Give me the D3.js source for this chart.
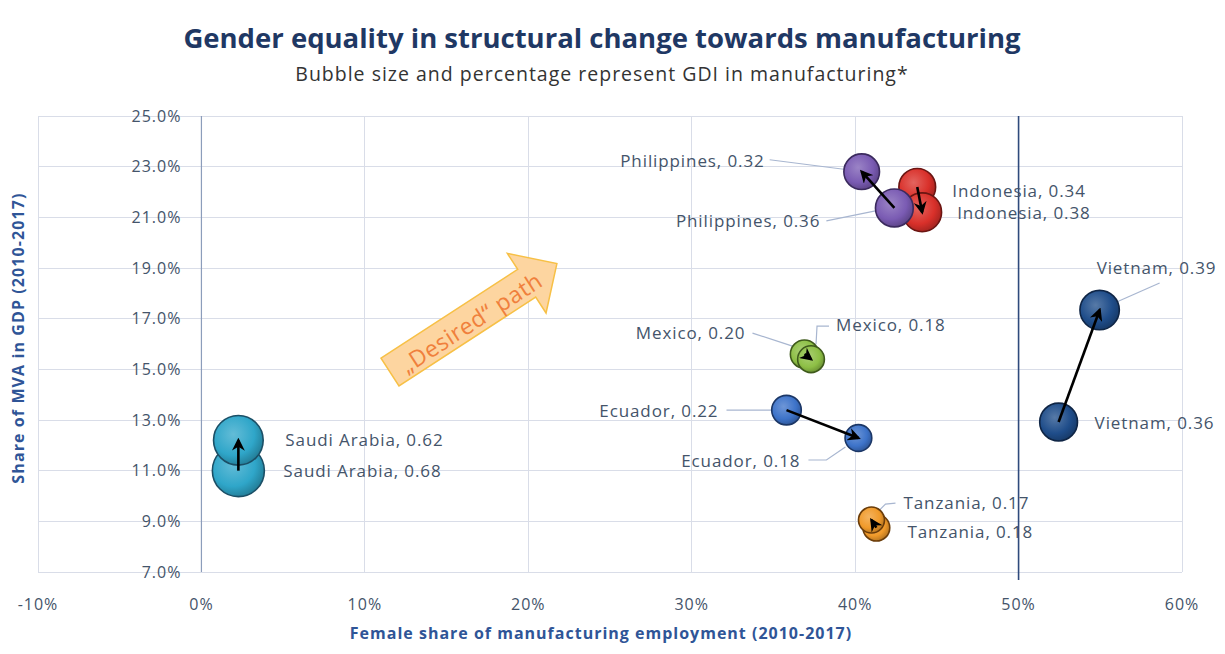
<!DOCTYPE html>
<meta charset="utf-8">
<style>
  body { margin: 0; background: #fff; font-family: "Open Sans", sans-serif; }
  .grid line { stroke: #d9dde8; stroke-width: 1; shape-rendering: crispEdges; }
  .tick-label { fill: #44546a; font-size: 16px; letter-spacing: 1px; }
  .bubble-label { fill: #44546a; font-size: 17px; letter-spacing: 0.9px; }
  .leader { fill: none; stroke: #a8b6d0; stroke-width: 1.2; }
</style>
<body>
<script src="https://d3js.org/d3.v7.min.js"></script>
<script>

// data: each country has a start and an end bubble (arrow goes start -> end)
var countries = ["Saudi Arabia", "Indonesia", "Philippines", "Mexico", "Ecuador", "Vietnam", "Tanzania"];
var startFemale = [0.0226, 0.438, 0.424, 0.369, 0.358, 0.5245, 0.413];
var startMva    = [0.110, 0.222, 0.2137, 0.156, 0.1339, 0.1292, 0.0875];
var startGdi    = [0.68, 0.34, 0.36, 0.20, 0.22, 0.36, 0.18];
var endFemale   = [0.0226, 0.441, 0.404, 0.373, 0.402, 0.5496, 0.410];
var endMva      = [0.122, 0.212, 0.228, 0.154, 0.1229, 0.1734, 0.0905];
var endGdi      = [0.62, 0.38, 0.32, 0.18, 0.18, 0.39, 0.17];

var xTicks = [-0.1, 0, 0.1, 0.2, 0.3, 0.4, 0.5, 0.6];
var yTicks = [0.07, 0.09, 0.11, 0.13, 0.15, 0.17, 0.19, 0.21, 0.23, 0.25];

// styling
var colors = {
  "Saudi Arabia": ["#2fa6c9", "#1b4f66"],
  "Philippines": ["#7a5bb3", "#3b2a5e"],
  "Indonesia": ["#d9302a", "#6b1512"],
  "Mexico": ["#8dbf45", "#3f5a1c"],
  "Ecuador": ["#3d73c9", "#1c3766"],
  "Vietnam": ["#1f4d8a", "#0f2545"],
  "Tanzania": ["#f09a2a", "#6b3d0a"]
};

// label offsets relative to bubble centre (pixels)
var labelLayout = {
  "Saudi Arabia|0.68": { dx: 45, dy: 0, anchor: "start" },
  "Saudi Arabia|0.62": { dx: 47, dy: 0, anchor: "start" },
  "Philippines|0.36": { dx: -74, dy: 13, anchor: "end", leader: [[-68, 13], [-14, 2]] },
  "Philippines|0.32": { dx: -97, dy: -11, anchor: "end", leader: [[-92, -12], [-14, -2]] },
  "Indonesia|0.34": { dx: 35, dy: 4, anchor: "start" },
  "Indonesia|0.38": { dx: 35, dy: 1, anchor: "start" },
  "Mexico|0.20": { dx: -59, dy: -21, anchor: "end", leader: [[-52, -21], [-12, -8]] },
  "Mexico|0.18": { dx: 25, dy: -34, anchor: "start", leader: [[18, -33], [6, -33], [5, -15]] },
  "Ecuador|0.22": { dx: -68, dy: 1, anchor: "end", leader: [[-60, 0], [-15, 0]] },
  "Ecuador|0.18": { dx: -58, dy: 23, anchor: "end", leader: [[-50, 22], [-32, 22], [-13, 9]] },
  "Vietnam|0.36": { dx: 36, dy: 1, anchor: "start" },
  "Vietnam|0.39": { dx: -3, dy: -42, anchor: "start", leader: [[60, -27], [17, -8]] },
  "Tanzania|0.18": { dx: 31, dy: 4, anchor: "start" },
  "Tanzania|0.17": { dx: 32, dy: -17, anchor: "start", leader: [[24, -17], [14, -16], [8, -10]] }
};

var W = 1225, H = 654;
var svg = d3.select("body").append("svg")
  .attr("width", W).attr("height", H)
  .style("font-family", "'Open Sans', sans-serif");

var x = d3.scaleLinear().domain([-0.1, 0.6]).range([38, 1182]);
var y = d3.scaleLinear().domain([0.07, 0.25]).range([572, 116]);
var r = d3.scaleSqrt().domain([0, 0.68]).range([0, 26]);

// plain hyphen for negative ticks, like Excel
var loc = d3.formatLocale({ decimal: ".", thousands: ",", grouping: [3], currency: ["", ""], minus: "-" });

var defs = svg.append("defs");
countries.forEach(function (c, i) {
  var base = d3.color(colors[c][0]);
  var g = defs.append("radialGradient").attr("id", "grad" + i)
    .attr("cx", "40%").attr("cy", "38%").attr("r", "65%");
  g.append("stop").attr("offset", "0%").attr("stop-color", d3.interpolateRgb(base, "#fff")(0.25));
  g.append("stop").attr("offset", "65%").attr("stop-color", base);
  g.append("stop").attr("offset", "100%").attr("stop-color", base.darker(0.8));
});
defs.append("marker").attr("id", "head")
  .attr("viewBox", "0 0 10 10").attr("refX", 8).attr("refY", 5)
  .attr("markerWidth", 13).attr("markerHeight", 13)
  .attr("markerUnits", "userSpaceOnUse").attr("orient", "auto")
  .append("path").attr("d", "M0,0 L10,5 L0,10 L3,5 Z").attr("fill", "#000");

// title
svg.append("text").attr("x", 602).attr("y", 48).attr("text-anchor", "middle")
  .style("font-size", "27.5px").style("font-weight", "bold").style("fill", "#1f3864")
  .text("Gender equality in structural change towards manufacturing");
svg.append("text").attr("x", 602).attr("y", 81).attr("text-anchor", "middle")
  .style("font-size", "19.5px").style("letter-spacing", "1px").style("fill", "#333")
  .text("Bubble size and percentage represent GDI in manufacturing*");

// grid
var grid = svg.append("g").attr("class", "grid");
grid.selectAll(".h").data(yTicks).enter().append("line")
  .attr("x1", x(-0.1)).attr("x2", x(0.6))
  .attr("y1", function (d) { return y(d); }).attr("y2", function (d) { return y(d); });
grid.selectAll(".v").data(xTicks.filter(function (d) { return d !== 0 && d !== 0.5; })).enter().append("line")
  .attr("x1", function (d) { return x(d); }).attr("x2", function (d) { return x(d); })
  .attr("y1", y(0.25)).attr("y2", y(0.07));
// vertical axis at 0 and the 50% equality line
svg.append("line").attr("x1", x(0)).attr("x2", x(0)).attr("y1", y(0.25)).attr("y2", y(0.07))
  .attr("stroke", "#8c9dbb").attr("stroke-width", 1.2);
svg.append("line").attr("x1", x(0.5)).attr("x2", x(0.5)).attr("y1", y(0.25)).attr("y2", y(0.07) + 8)
  .attr("stroke", "#2f4a7c").attr("stroke-width", 1.6);

// tick labels
svg.selectAll(".yt").data(yTicks).enter().append("text")
  .attr("class", "tick-label").attr("x", x(0) - 20).attr("y", function (d) { return y(d); })
  .attr("dy", "0.35em").attr("text-anchor", "end")
  .text(loc.format(".1%"));
svg.selectAll(".xt").data(xTicks).enter().append("text")
  .attr("class", "tick-label").attr("x", function (d) { return x(d); }).attr("y", 604)
  .attr("dy", "0.35em").attr("text-anchor", "middle")
  .text(loc.format(".0%"));

// axis titles
svg.append("text").attr("x", 601).attr("y", 639).attr("text-anchor", "middle")
  .style("font-size", "16px").style("letter-spacing", "1px").style("font-weight", "bold").style("fill", "#2f5597")
  .text("Female share of manufacturing employment (2010-2017)");
svg.append("text").attr("transform", "translate(24,338) rotate(-90)").attr("text-anchor", "middle")
  .style("font-size", "16px").style("letter-spacing", "1.1px").style("font-weight", "bold").style("fill", "#2f5597")
  .text("Share of MVA in GDP (2010-2017)");

// "Desired" path arrow
var da = svg.append("g").attr("transform", "translate(390,372) rotate(-33)");
da.append("path")
  .attr("d", "M0,-16.5 L163,-16.5 L163,-35.5 L199,0 L163,35.5 L163,16.5 L0,16.5 Z")
  .attr("fill", "#fdd5a0").attr("stroke", "#f7c046").attr("stroke-width", 1.5);
da.append("text").attr("x", 95).attr("y", 3).attr("text-anchor", "middle").attr("dy", "0.35em")
  .style("font-size", "23px").style("letter-spacing", "0.6px").style("fill", "#f0803c")
  .text("\u201EDesired\u201C path");

// bubbles
var points = [];
countries.forEach(function (c, i) {
  points.push({ country: c, i: i, fx: startFemale[i], mva: startMva[i], gdi: startGdi[i] });
  points.push({ country: c, i: i, fx: endFemale[i], mva: endMva[i], gdi: endGdi[i] });
});

// leader lines
var line = d3.line();
points.forEach(function (p) {
  var L = labelLayout[p.country + "|" + d3.format(".2f")(p.gdi)];
  if (L && L.leader) {
    svg.append("path").attr("class", "leader")
      .attr("d", line(L.leader.map(function (q) { return [x(p.fx) + q[0], y(p.mva) + q[1]]; })));
  }
});

svg.selectAll(".bubble").data(points).enter().append("circle")
  .attr("cx", function (d) { return x(d.fx); })
  .attr("cy", function (d) { return y(d.mva); })
  .attr("r", function (d) { return r(d.gdi); })
  .attr("fill", function (d) { return "url(#grad" + d.i + ")"; })
  .attr("stroke", function (d) { return colors[d.country][1]; })
  .attr("stroke-width", 1.6);

// arrows start -> end
countries.forEach(function (c, i) {
  var x1 = x(startFemale[i]), y1 = y(startMva[i]), x2 = x(endFemale[i]), y2 = y(endMva[i]);
  svg.append("line").attr("x1", x1).attr("y1", y1).attr("x2", x2).attr("y2", y2)
    .attr("stroke", "#000").attr("stroke-width", 2.6).attr("marker-end", "url(#head)");
});

// labels
svg.selectAll(".bubble-label").data(points).enter().append("text")
  .attr("class", "bubble-label")
  .each(function (d) {
    var L = labelLayout[d.country + "|" + d3.format(".2f")(d.gdi)];
    d3.select(this)
      .attr("x", x(d.fx) + L.dx).attr("y", y(d.mva) + L.dy).attr("dy", "0.35em")
      .attr("text-anchor", L.anchor)
      .text(d.country + ", " + d3.format(".2f")(d.gdi));
  });

</script>
</body>
